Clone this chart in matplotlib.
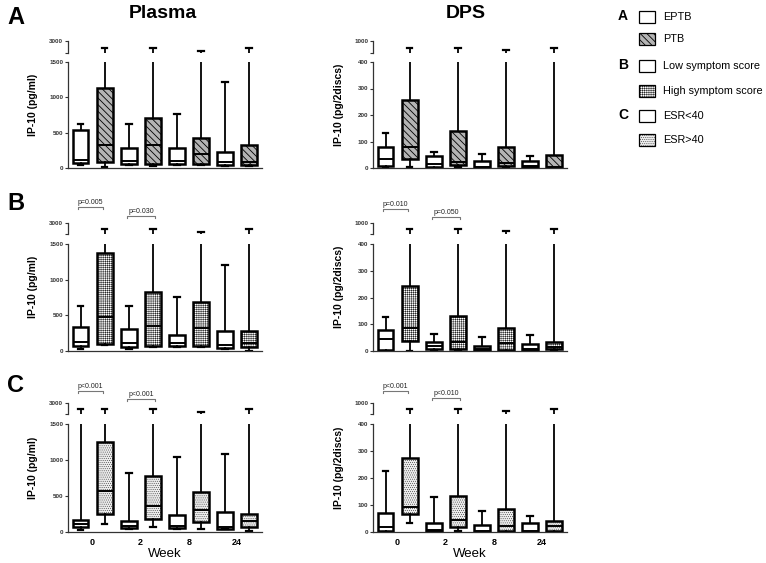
import numpy as np
import matplotlib.pyplot as plt
from matplotlib.patches import Rectangle
from matplotlib.transforms import blended_transform_factory

plt.rcParams['font.family'] = ['Liberation Sans', 'DejaVu Sans']
plt.rcParams['font.weight'] = 'bold'
plt.rcParams['hatch.linewidth'] = 0.4

W, H = 766, 563

# five numbers per box: whisker low, Q1, median, Q3, whisker high
# order: wk0 low/high, wk2 low/high, wk8 low/high, wk24 low/high
plasma_a = [[38, 75, 120, 540, 620], [15, 85, 320, 1137, 2450],
            [38, 56, 103, 282, 620], [23, 56, 320, 705, 2450],
            [38, 56, 103, 282, 761], [47, 61, 197, 418, 2150],
            [33, 47, 85, 226, 1213], [23, 47, 85, 320, 2450]]
dps_a = [[2, 6, 34, 81, 131], [2, 35, 81, 258, 780],
         [0, 2, 15, 44, 62], [2, 10, 21, 140, 780],
         [0, 1, 3, 25, 52], [0, 6, 19, 78, 700],
         [0, 2, 6, 25, 47], [0, 1, 2, 49, 780]]
plasma_b = [[28, 65, 126, 331, 624], [88, 98, 475, 1370, 2450],
            [28, 56, 112, 312, 624], [56, 65, 350, 825, 2450],
            [56, 65, 112, 224, 764], [56, 65, 322, 690, 2150],
            [33, 42, 88, 275, 1207], [5, 56, 112, 275, 2450]]
dps_b = [[0, 2, 45, 80, 126], [0, 36, 87, 243, 780],
         [2, 9, 20, 35, 64], [2, 7, 35, 130, 780],
         [0, 2, 7, 20, 54], [0, 2, 30, 86, 700],
         [0, 2, 7, 27, 60], [2, 7, 15, 34, 780]]
plasma_c = [[32, 69, 111, 162, 2450], [115, 254, 572, 1255, 2450],
            [42, 51, 78, 148, 826], [69, 180, 355, 780, 2450],
            [42, 55, 88, 240, 1038], [46, 138, 309, 549, 2150],
            [37, 46, 69, 277, 1080], [18, 69, 157, 254, 2450]]
dps_c = [[0, 5, 17, 70, 225], [33, 65, 91, 273, 780],
         [1, 4, 9, 35, 131], [4, 19, 44, 133, 780],
         [0, 1, 2, 25, 79], [0, 2, 23, 86, 700],
         [0, 1, 4, 32, 60], [1, 4, 21, 41, 780]]

weeks = ['0', '2', '8', '24']
row_letters = ['A', 'B', 'C']
pvals_plasma = [[], ['p=0.005', 'p=0.030'], ['p<0.001', 'p<0.001']]
pvals_dps = [[], ['p=0.010', 'p=0.050'], ['p<0.001', 'p<0.010']]
legend_labels = ['EPTB', 'PTB', 'Low symptom score', 'High symptom score',
                 'ESR<40', 'ESR>40']

hatches = ['\\\\\\\\\\', '++++++++', '........']
faces = ['#b4b4b4', 'white', '#ececec']
hatch_lw = [0.6, 0.3, 0.25]
hatch_col = ['black', '#555555', '#888888']

fig = plt.figure(figsize=(W / 100, H / 100), dpi=100)


def px_axes(x0, y0, x1, y1):
    return fig.add_axes([x0 / W, 1 - y1 / H, (x1 - x0) / W, (y1 - y0) / H])


def set_hatch(p, g):
    p.set_hatch(hatches[g])
    p.set_facecolor(faces[g])
    if hasattr(p, 'set_hatch_linewidth'):
        p.set_hatch_linewidth(hatch_lw[g])
    if hasattr(p, 'set_hatchcolor'):
        p.set_hatchcolor(hatch_col[g])


def draw_boxes(ax, stats, g):
    bx = ax.bxp([dict(whislo=s[0], q1=s[1], med=s[2], q3=s[3], whishi=s[4])
                 for s in stats],
                positions=range(1, 9), widths=0.66, capwidths=0.24,
                patch_artist=True, showfliers=False,
                boxprops=dict(lw=1.8, edgecolor='black', facecolor='white'),
                whiskerprops=dict(lw=1.3), capprops=dict(lw=1.6),
                medianprops=dict(lw=1.4, color='black'))
    for i, b in enumerate(bx['boxes']):
        if i % 2:
            set_hatch(b, g)


def style(ax):
    for s in ['top', 'right']:
        ax.spines[s].set_visible(False)
    for s in ['left', 'bottom']:
        ax.spines[s].set_color('#333333')
        ax.spines[s].set_linewidth(0.9)
    ax.tick_params(axis='y', length=2.5, width=0.8, labelsize=4.5, pad=1,
                   colors='#333333')
    ax.set_xlim(0.48, 8.54)


def bracket(ax, x0, x1, ypx, text):
    tr = blended_transform_factory(ax.transData, fig.transFigure)
    y = 1 - ypx / H
    d = 2 / H
    ax.plot([x0, x0, x1, x1], [y - d, y, y, y - d], transform=tr,
            color='#777777', lw=0.8, clip_on=False)
    ax.text((x0 + x1) / 2, y + 1 / H, text, transform=tr, ha='center',
            va='bottom', fontsize=5, fontweight='normal', color='#222222')


row_y = [(41, 53, 62, 168), (223, 234, 244, 351), (403, 414, 424, 532)]
cols = [(68, 262, plasma_a, plasma_b, plasma_c, 1500, 500, (2000, 3000),
         'IP-10 (pg/ml)', 33, pvals_plasma, [(207, 216), (207, 216), (391, 399)]),
        (373, 567, dps_a, dps_b, dps_c, 400, 100, (600, 1000),
         'IP-10 (pg/2discs)', 339, pvals_dps, [(209, 217), (209, 217), (391, 398)])]

for (x0, x1, da, db, dc, ymax, ystep, upper, ylab, ylx, pv, by) in cols:
    for r, data in enumerate([da, db, dc]):
        ut, ub, lt, lb = row_y[r]

        low = px_axes(x0, lt, x1, lb)
        draw_boxes(low, data, r)
        style(low)
        low.set_ylim(0, ymax)
        low.set_yticks(np.arange(0, ymax + 1, ystep))
        if r == 2:
            low.set_xticks([1.5, 3.5, 5.5, 7.5])
            low.set_xticklabels(weeks, fontsize=6.5)
            low.tick_params(axis='x', length=0, pad=4)
            low.set_xlabel('Week', fontsize=9.5, labelpad=1)
        else:
            low.set_xticks([])

        up = px_axes(x0, ut, x1, ub)
        draw_boxes(up, data, r)
        style(up)
        up.spines['bottom'].set_visible(False)
        up.set_ylim(*upper)
        up.set_yticks(list(upper))
        up.set_yticklabels(['', str(upper[1])])
        up.set_xticks([])

        fig.text(ylx / W, 1 - (ut + lb) / 2 / H, ylab, rotation=90,
                 ha='center', va='center', fontsize=7.5)

        for k, txt in enumerate(pv[r]):
            xa, xb = [(0.88, 1.95), (2.95, 4.1)][k]
            bracket(low, xa, xb, by[r][k], txt)

fig.text(163 / W, 1 - 14 / H, 'Plasma', ha='center', va='center', fontsize=14)
fig.text(466 / W, 1 - 14 / H, 'DPS', ha='center', va='center', fontsize=14)
for letter, ypx in zip(row_letters, [18, 203, 385]):
    fig.text(16 / W, 1 - ypx / H, letter, ha='center', va='center', fontsize=17)

# legend
box_tops = [11, 33, 60, 85, 110, 134]
for i, lab in enumerate(legend_labels):
    yt = box_tops[i]
    g = i // 2
    rect = Rectangle((639 / W, 1 - (yt + 12) / H), 16 / W, 12 / H,
                     transform=fig.transFigure, facecolor='white',
                     edgecolor='black', lw=0.9)
    if i % 2:
        set_hatch(rect, g)
    else:
        fig.text(623 / W, 1 - (yt + 5) / H, row_letters[g], ha='center',
                 va='center', fontsize=10)
    fig.add_artist(rect)
    fig.text(663 / W, 1 - (yt + 6) / H, lab, ha='left', va='center',
             fontsize=7.8, fontweight='normal')

fig.savefig('out.png', dpi=100)
